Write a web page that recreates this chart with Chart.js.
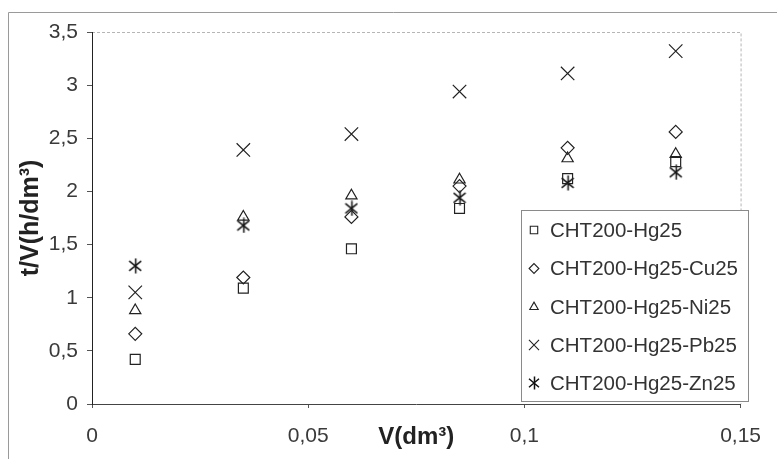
<!DOCTYPE html>
<html>
<head>
<meta charset="utf-8">
<script src="https://cdn.jsdelivr.net/npm/chart.js@4/dist/chart.umd.min.js"></script>
<style>
  html, body { margin: 0; padding: 0; background: #fff; }
  #wrap { width: 777px; height: 459px; position: relative; }
</style>
</head>
<body>
<div id="wrap"><canvas id="c" width="777" height="459"></canvas></div>
<script>
// ---- data ----
const volumes = [0.01, 0.035, 0.06, 0.085, 0.11, 0.135];
const seriesNames = ["CHT200-Hg25", "CHT200-Hg25-Cu25", "CHT200-Hg25-Ni25", "CHT200-Hg25-Pb25", "CHT200-Hg25-Zn25"];
const hg25 = [0.42, 1.09, 1.46, 1.84, 2.12, 2.28];
const cu25 = [0.66, 1.19, 1.76, 2.05, 2.41, 2.56];
const ni25 = [0.88, 1.76, 1.96, 2.11, 2.31, 2.35];
const pb25 = [1.05, 2.39, 2.54, 2.94, 3.11, 3.32];
const zn25 = [1.30, 1.68, 1.84, 1.94, 2.08, 2.18];
const xTicks = [0, 0.05, 0.1, 0.15];
const yTicks = [0, 0.5, 1, 1.5, 2, 2.5, 3, 3.5];
const xTitle = "V(dm³)";
const yTitle = "t/V(h/dm³)";

const INK = '#222';
const FONT = "'Liberation Sans', Arial, sans-serif";

// asterisk marker (X with vertical bar)
function makeAsterisk(scale) {
  const w = Math.round(14 * scale), h = Math.round(16 * scale);
  const cv = document.createElement('canvas');
  cv.width = w; cv.height = h;
  const g = cv.getContext('2d');
  g.strokeStyle = '#111'; g.lineWidth = 1.5;
  g.beginPath();
  g.moveTo(1, h * 0.2); g.lineTo(w - 1, h * 0.8);
  g.moveTo(w - 1, h * 0.2); g.lineTo(1, h * 0.8);
  g.moveTo(Math.floor(w / 2) + 0.5, 0.5); g.lineTo(Math.floor(w / 2) + 0.5, h - 0.5);
  g.stroke();
  return cv;
}
const asterisk = makeAsterisk(1);
const asteriskSmall = makeAsterisk(0.85);

const seriesValues = [hg25, cu25, ni25, pb25, zn25];
const styles = [
  { pointStyle: 'rect', radius: 7 },
  { pointStyle: 'rectRot', radius: 6.5 },
  { pointStyle: 'triangle', radius: 6.5 },
  { pointStyle: 'crossRot', radius: 9.5 },
  { pointStyle: asterisk, radius: 7 }
];

const datasets = seriesNames.map((name, i) => ({
  label: name,
  data: volumes.map((v, j) => ({ x: v, y: seriesValues[i][j] })),
  pointStyle: styles[i].pointStyle,
  pointRadius: styles[i].radius,
  pointHoverRadius: styles[i].radius,
  borderColor: INK,
  backgroundColor: 'rgba(0,0,0,0)',
  pointBorderWidth: 1.2,
  showLine: false
}));

const fmt = v => {
  const n = Math.round(v * 1000) / 1000;
  return String(n).replace('.', ',');
};

const framePlugin = {
  id: 'frame',
  beforeDraw(chart) {
    const ctx = chart.ctx;
    const a = chart.chartArea;
    ctx.save();
    // outer frame
    ctx.strokeStyle = '#9a9a9a';
    ctx.lineWidth = 1;
    ctx.beginPath();
    ctx.moveTo(8.5, 470); ctx.lineTo(8.5, 12.5); ctx.lineTo(790, 12.5);
    ctx.stroke();
    // plot area top / right lines
    ctx.strokeStyle = '#b5b5b5';
    ctx.setLineDash([3, 2]);
    ctx.beginPath();
    ctx.moveTo(a.left, a.top + 0.5); ctx.lineTo(a.right + 0.5, a.top + 0.5); ctx.lineTo(a.right + 0.5, a.bottom);
    ctx.stroke();
    ctx.restore();
  }
};

const legendPlugin = {
  id: 'boxLegend',
  afterDraw(chart) {
    const ctx = chart.ctx;
    const bx = 521.5, by = 210.5, bw = 227, bh = 191;
    ctx.save();
    ctx.fillStyle = '#fff';
    ctx.fillRect(bx, by, bw, bh);
    ctx.strokeStyle = '#8a8a8a';
    ctx.lineWidth = 1;
    ctx.strokeRect(bx, by, bw, bh);
    const rows = [230, 268.5, 307, 345, 383];
    ctx.textBaseline = 'middle';
    ctx.textAlign = 'left';
    chart.data.datasets.forEach((ds, i) => {
      const y = rows[i];
      const ps = (i === 4) ? asteriskSmall : ds.pointStyle;
      ctx.fillStyle = 'rgba(0,0,0,0)';
      ctx.strokeStyle = INK;
      ctx.lineWidth = 1.1;
      Chart.helpers.drawPoint(ctx, {
        pointStyle: ps,
        radius: ds.pointRadius * 0.75,
        borderWidth: 1.1,
        rotation: 0
      }, 534, y);
      ctx.font = '20.5px ' + FONT;
      ctx.fillStyle = '#333';
      ctx.fillText(ds.label, 550, y + 1);
    });
    ctx.restore();
  }
};

new Chart(document.getElementById('c'), {
  type: 'scatter',
  data: { datasets },
  options: {
    responsive: false,
    animation: false,
    layout: { padding: { left: 0, top: 32, right: 28, bottom: 0 } },
    plugins: {
      legend: { display: false },
      tooltip: { enabled: false }
    },
    scales: {
      x: {
        type: 'linear',
        min: xTicks[0],
        max: xTicks[xTicks.length - 1],
        afterBuildTicks: s => { s.ticks = xTicks.map(v => ({ value: v })); },
        afterFit: s => { s.height = 55; },
        ticks: {
          callback: v => fmt(v),
          color: '#3a3a3a',
          font: { family: FONT, size: 21 },
          padding: 16,
          maxRotation: 0
        },
        grid: { display: true, drawOnChartArea: false, tickLength: 4, color: '#555' },
        border: { display: true, color: '#444', width: 1 },
        title: {
          display: true,
          text: xTitle,
          color: '#222',
          font: { family: FONT, size: 24, weight: 'bold' },
          padding: { top: 0, bottom: 7 }
        }
      },
      y: {
        type: 'linear',
        min: yTicks[0],
        max: yTicks[yTicks.length - 1],
        afterBuildTicks: s => { s.ticks = yTicks.map(v => ({ value: v })); },
        afterFit: s => { s.width = 92; },
        ticks: {
          callback: v => fmt(v),
          color: '#3a3a3a',
          font: { family: FONT, size: 21 },
          padding: 9
        },
        grid: { display: true, drawOnChartArea: false, tickLength: 5, color: '#555' },
        border: { display: true, color: '#222', width: 1 },
        title: {
          display: true,
          text: yTitle,
          color: '#222',
          font: { family: FONT, size: 25, weight: 'bold' },
          padding: { top: 16, bottom: 0 }
        }
      }
    }
  },
  plugins: [framePlugin, legendPlugin]
});
</script>
</body>
</html>
